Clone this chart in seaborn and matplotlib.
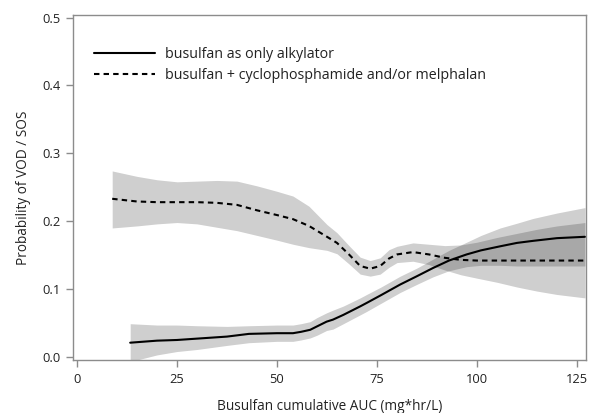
"""
VOD/SOS probability vs busulfan cumulative AUC, two regimen groups
"""

import numpy as np
import pandas as pd
import matplotlib
matplotlib.use("Agg")
import matplotlib.pyplot as plt
import seaborn as sns

# ---- data ----
# busulfan as only alkylator (solid)
x_bu = [13.3, 20, 25, 30, 37.5, 43, 50, 54, 56, 58.3, 60, 62.4, 64, 66.6,
        70.8, 72.4, 76, 80.8, 85, 89, 93, 97.4, 101, 105.8, 110, 114, 120, 127]
y_bu = [0.021, 0.024, 0.025, 0.027, 0.030, 0.034, 0.035, 0.035, 0.037, 0.040,
        0.045, 0.052, 0.055, 0.062, 0.0745, 0.0795, 0.091, 0.1067, 0.119, 0.131,
        0.142, 0.151, 0.157, 0.163, 0.168, 0.171, 0.175, 0.177]
lo_bu = [-0.007, 0.003, 0.008, 0.011, 0.017, 0.021, 0.023, 0.023, 0.025, 0.028,
         0.032, 0.039, 0.041, 0.049, 0.062, 0.067, 0.079, 0.095, 0.107, 0.118,
         0.127, 0.133, 0.135, 0.135, 0.134, 0.134, 0.134, 0.134]
hi_bu = [0.049, 0.047, 0.047, 0.046, 0.045, 0.046, 0.047, 0.047, 0.049, 0.052,
         0.058, 0.065, 0.069, 0.075, 0.087, 0.092, 0.103, 0.119, 0.131, 0.144,
         0.157, 0.169, 0.179, 0.190, 0.197, 0.204, 0.212, 0.220]

# busulfan + cyclophosphamide and/or melphalan (dashed)
x_combo = [8.8, 15, 20, 25, 30, 35, 40, 45, 50, 54, 58, 62.5, 65, 68, 70.8,
           73.3, 75.8, 78, 80, 84, 88, 92, 96, 100, 105, 110, 115, 120, 127]
y_combo = [0.233, 0.229, 0.228, 0.228, 0.228, 0.227, 0.224, 0.216, 0.209, 0.203,
           0.193, 0.177, 0.168, 0.151, 0.134, 0.130, 0.134, 0.145, 0.151, 0.1545,
           0.151, 0.146, 0.143, 0.142, 0.142, 0.142, 0.142, 0.142, 0.142]
lo_combo = [0.190, 0.193, 0.196, 0.198, 0.196, 0.191, 0.186, 0.179, 0.172, 0.166,
            0.161, 0.157, 0.152, 0.137, 0.122, 0.119, 0.122, 0.132, 0.139, 0.141,
            0.136, 0.128, 0.121, 0.116, 0.110, 0.103, 0.097, 0.092, 0.087]
hi_combo = [0.274, 0.266, 0.261, 0.258, 0.259, 0.260, 0.259, 0.252, 0.244, 0.237,
            0.222, 0.195, 0.183, 0.164, 0.147, 0.142, 0.146, 0.158, 0.163, 0.168,
            0.166, 0.164, 0.165, 0.169, 0.176, 0.182, 0.188, 0.193, 0.198]

LABEL_BU    = "busulfan as only alkylator"
LABEL_COMBO = "busulfan + cyclophosphamide and/or melphalan"

x_ticks = [0, 25, 50, 75, 100, 125]
y_ticks = [0.0, 0.1, 0.2, 0.3, 0.4, 0.5]

sns.set_theme(style="white")
plt.rcParams["font.family"] = ["Open Sans", "DejaVu Sans"]

df = pd.concat([
    pd.DataFrame({"auc": x_bu, "p": y_bu, "group": LABEL_BU}),
    pd.DataFrame({"auc": x_combo, "p": y_combo, "group": LABEL_COMBO}),
])

fig = plt.figure(figsize=(5.9, 4.13), dpi=100)
ax = fig.add_axes([0.1237, 0.1283, 0.8695, 0.8354])

BAND = (0, 0, 0, 0.19)
ax.fill_between(x_combo, lo_combo, hi_combo, color=BAND, linewidth=0)
ax.fill_between(x_bu, lo_bu, hi_bu, color=BAND, linewidth=0)

sns.lineplot(data=df, x="auc", y="p", hue="group", style="group",
             palette=["black", "black"],
             dashes={LABEL_BU: "", LABEL_COMBO: (2.6, 2.0)},
             linewidth=1.5, ax=ax, sort=False, estimator=None)

ax.set_xlim(-1.0, 127.25)
ax.set_ylim(-0.0045, 0.5037)
ax.set_xticks(x_ticks)
ax.set_xticklabels([str(t) for t in x_ticks])
ax.set_yticks(y_ticks)
ax.set_yticklabels([f"{t:.1f}" for t in y_ticks])

for s in ax.spines.values():
    s.set_color("#8c8c8c")
    s.set_linewidth(1.0)
ax.tick_params(axis="both", direction="out", length=5, width=1.0,
               color="#8c8c8c", labelsize=9.3, labelcolor="#222222",
               bottom=True, left=True, pad=4)

ax.set_xlabel("Busulfan cumulative AUC (mg*hr/L)", fontsize=9.8,
              color="#222222", labelpad=10)
ax.set_ylabel("Probability of VOD / SOS", fontsize=9.8,
              color="#222222", labelpad=8)

leg = ax.legend(loc="upper left", frameon=False, fontsize=10.3,
                bbox_to_anchor=(0.029, 0.925), handlelength=4.3,
                handletextpad=0.7, labelspacing=0.42, borderaxespad=0)
for t in leg.get_texts():
    t.set_color("#222222")

fig.savefig("out.png", dpi=100)
